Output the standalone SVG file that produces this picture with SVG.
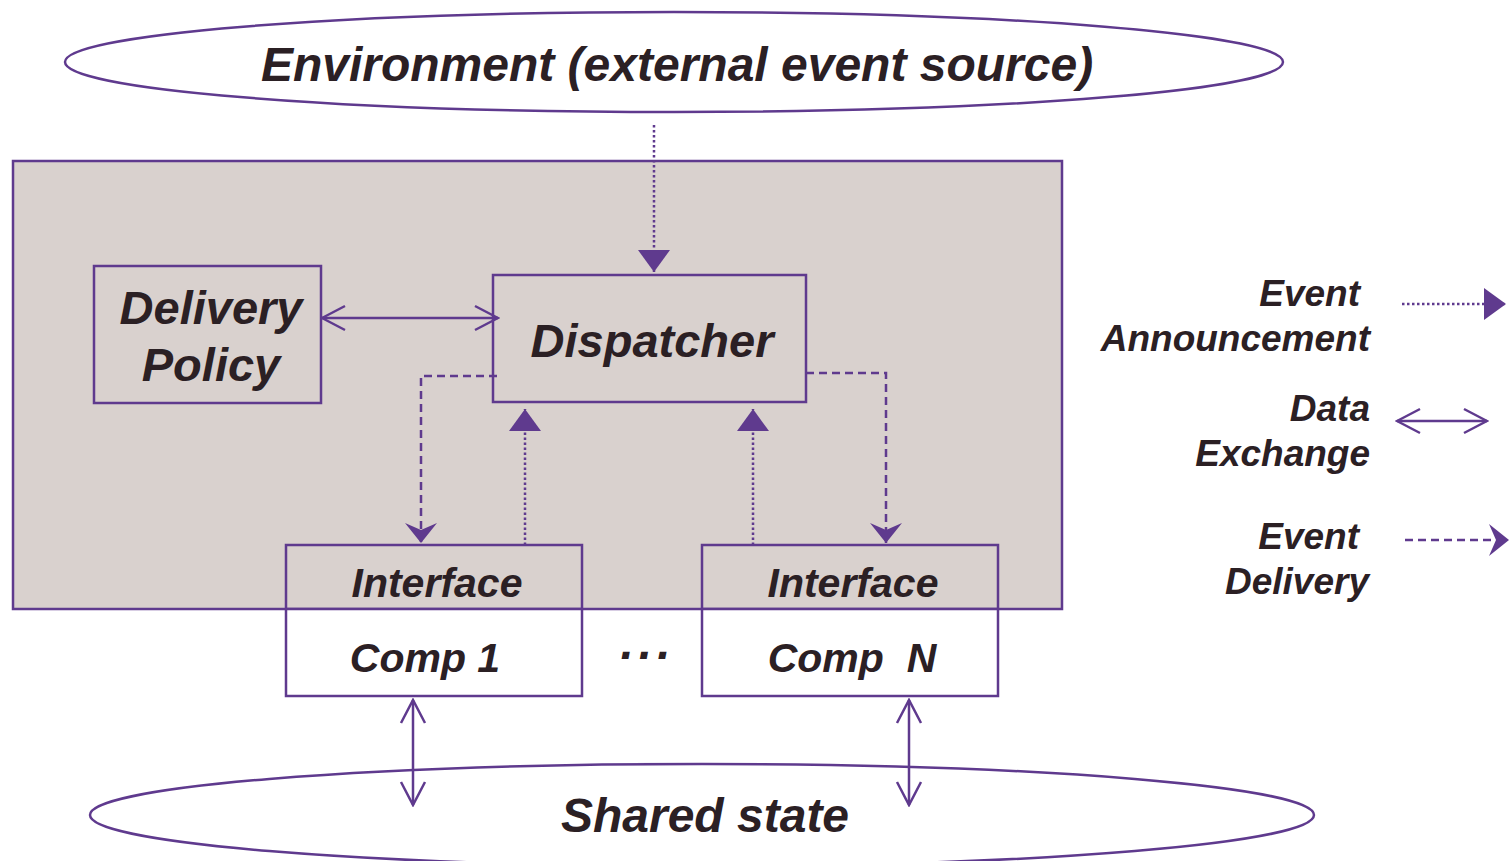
<svg xmlns="http://www.w3.org/2000/svg" width="1509" height="861" viewBox="0 0 1509 861">
  <style>
    .box { fill: none; stroke: #5f3a8e; stroke-width: 2.5; }
    .oval { fill: #ffffff; stroke: #5f3a8e; stroke-width: 2.5; }
    .lbl { font-family: "Liberation Sans", Arial, sans-serif; font-weight: bold; font-style: italic; fill: #2b2024; }
    .conn { fill: none; stroke: #5f3a8e; stroke-width: 2.5; }
    .announce { stroke-dasharray: 2.5 2.5; marker-end: url(#tri); }
    .deliver { stroke-dasharray: 8 5; marker-end: url(#barb); }
    .exchange { marker-start: url(#vee); marker-end: url(#vee); }
  </style>
  <defs>
    <marker id="tri" markerUnits="userSpaceOnUse" viewBox="0 0 22 32" refX="22" refY="16" markerWidth="22" markerHeight="32" orient="auto">
      <path d="M0,0 L22,16 L0,32 Z" fill="#5f3a8e"/>
    </marker>
    <marker id="barb" markerUnits="userSpaceOnUse" viewBox="0 0 20 32" refX="20" refY="16" markerWidth="20" markerHeight="32" orient="auto">
      <path d="M0,0 L20,16 L0,32 L7,16 Z" fill="#5f3a8e"/>
    </marker>
    <marker id="vee" markerUnits="userSpaceOnUse" viewBox="0 0 27 28" refX="25" refY="14" markerWidth="27" markerHeight="28" orient="auto-start-reverse">
      <path d="M2,2 L25,14 L2,26" fill="none" stroke="#5f3a8e" stroke-width="2.5"/>
    </marker>
  </defs>

  <rect width="1509" height="861" fill="#ffffff"/>

  <!-- event source -->
  <g id="environment">
    <ellipse class="oval" cx="674" cy="62" rx="609" ry="50"/>
    <text class="lbl" x="677" y="81" font-size="48" text-anchor="middle">Environment (external event source)</text>
  </g>

  <!-- shared state store -->
  <g id="shared-state">
    <ellipse class="oval" cx="702" cy="815" rx="612" ry="51"/>
    <text class="lbl" x="705" y="832" font-size="48" text-anchor="middle">Shared state</text>
  </g>

  <!-- container around dispatcher, policy and interfaces -->
  <g id="framework">
    <rect x="13" y="161" width="1049" height="448" fill="#d9d1ce" stroke="#5f3a8e" stroke-width="2.5"/>
  </g>

  <g id="delivery-policy">
    <rect class="box" x="94" y="266" width="227" height="137"/>
    <text class="lbl" x="211" y="324" font-size="47" text-anchor="middle">Delivery</text>
    <text class="lbl" x="211" y="381" font-size="47" text-anchor="middle">Policy</text>
  </g>

  <g id="dispatcher">
    <rect class="box" x="493" y="275" width="313" height="127"/>
    <text class="lbl" x="652" y="357" font-size="47" text-anchor="middle">Dispatcher</text>
  </g>

  <g id="comp-1">
    <rect x="286" y="609" width="296" height="87" fill="#ffffff"/>
    <rect class="box" x="286" y="545" width="296" height="151"/>
    <line class="box" x1="286" y1="609" x2="582" y2="609"/>
    <text class="lbl" x="437" y="597" font-size="41" text-anchor="middle">Interface</text>
    <text class="lbl" x="425" y="672" font-size="41" text-anchor="middle">Comp 1</text>
  </g>

  <g id="ellipsis">
    <text class="lbl" x="648" y="659" font-size="48" text-anchor="middle" letter-spacing="5">...</text>
  </g>

  <g id="comp-n">
    <rect x="702" y="609" width="296" height="87" fill="#ffffff"/>
    <rect class="box" x="702" y="545" width="296" height="151"/>
    <line class="box" x1="702" y1="609" x2="998" y2="609"/>
    <text class="lbl" x="853" y="597" font-size="41" text-anchor="middle">Interface</text>
    <text class="lbl" x="852" y="672" font-size="41" text-anchor="middle" style="white-space: pre">Comp  N</text>
  </g>

  <!-- connectors -->
  <g id="connectors">
    <path class="conn announce" d="M654,125 V272"/>
    <path class="conn exchange" d="M322,318 H498"/>
    <path class="conn deliver" d="M497,376 H421 V543"/>
    <path class="conn announce" d="M525,545 V409"/>
    <path class="conn announce" d="M753,545 V409"/>
    <path class="conn deliver" d="M806,373 H886 V543"/>
    <path class="conn exchange" d="M413,700 V805"/>
    <path class="conn exchange" d="M909,700 V805"/>
  </g>

  <!-- key -->
  <g id="legend">
    <text class="lbl" x="1360" y="306" font-size="37" text-anchor="end">Event</text>
    <text class="lbl" x="1370" y="351" font-size="37" text-anchor="end">Announcement</text>
    <path class="conn announce" d="M1402,304 H1506"/>
    <text class="lbl" x="1370" y="421" font-size="37" text-anchor="end">Data</text>
    <text class="lbl" x="1370" y="466" font-size="37" text-anchor="end">Exchange</text>
    <path class="conn exchange" d="M1397,421 H1487"/>
    <text class="lbl" x="1359" y="549" font-size="37" text-anchor="end">Event</text>
    <text class="lbl" x="1369" y="594" font-size="37" text-anchor="end">Delivery</text>
    <path class="conn deliver" d="M1405,540 H1509"/>
  </g>
</svg>
